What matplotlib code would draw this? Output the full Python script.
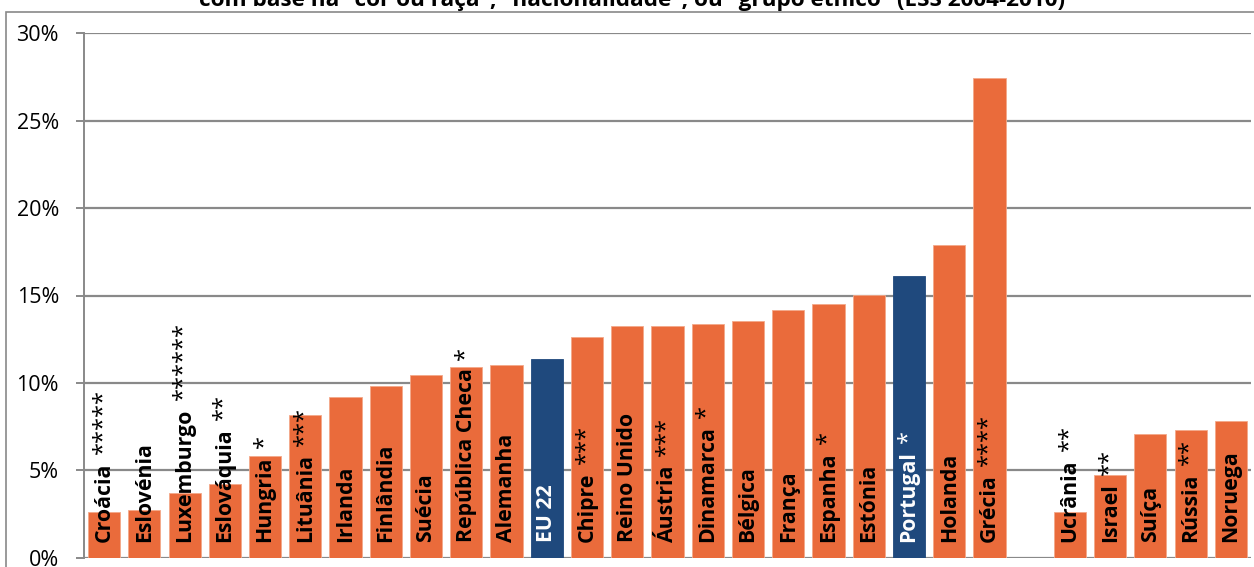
import numpy as np
import matplotlib.pyplot as plt
from matplotlib.patches import Rectangle

# -----------------------------
# Dados
# -----------------------------
paises = ['Croácia', 'Eslovénia', 'Luxemburgo', 'Eslováquia', 'Hungria', 'Lituânia',
          'Irlanda', 'Finlândia', 'Suécia', 'República Checa', 'Alemanha', 'EU 22',
          'Chipre', 'Reino Unido', 'Áustria', 'Dinamarca', 'Bélgica', 'França',
          'Espanha', 'Estónia', 'Portugal', 'Holanda', 'Grécia', '',
          'Ucrânia', 'Israel', 'Suíça', 'Rússia', 'Noruega']
asteriscos = ['*****', '', '******', '**', '*', '***',
              '', '', '', '*', '', '',
              '***', '', '***', '*', '', '',
              '*', '', '*', '', '****', '',
              '**', '**', '', '**', '']
valores = [2.61, 2.75, 3.72, 4.24, 5.84, 8.18,
           9.17, 9.81, 10.48, 10.89, 11.02, 11.35,
           12.61, 13.24, 13.26, 13.35, 13.56, 14.19,
           14.51, 15.03, 16.11, 17.87, 27.45, np.nan,
           2.63, 4.74, 7.05, 7.33, 7.84]
destaque = ['EU 22', 'Portugal']

titulo = 'com base na "cor ou raça", "nacionalidade", ou "grupo étnico" (ESS 2004-2010)'

laranja = '#EA6B3B'
azul = '#1F497D'
cinza = '#898989'

plt.rcParams['font.family'] = ['Open Sans', 'DejaVu Sans']

fig = plt.figure(figsize=(12.54, 5.67), dpi=100)
ax = fig.add_axes([84 / 1254, 9.3 / 567, 1167 / 1254, 524.4 / 567])

x = np.arange(len(paises))
cores = [azul if p in destaque else laranja for p in paises]
bordas = [azul if p in destaque else '#F3A98A' for p in paises]
ax.bar(x, valores, width=0.8, color=cores, edgecolor=bordas, linewidth=0.6, zorder=2)

ax.set_xlim(-0.5, len(paises) - 0.5)
ax.set_ylim(0, 30)
ax.set_yticks(np.arange(0, 31, 5))
ax.set_yticklabels([f'{v}%' for v in range(0, 31, 5)], fontsize=15.5)
ax.set_xticks([])
ax.yaxis.grid(True, color=cinza, linewidth=1.6, zorder=0)
ax.set_axisbelow(True)
for s in ['top', 'right', 'bottom']:
    ax.spines[s].set_visible(False)
ax.spines['left'].set_color(cinza)
ax.spines['left'].set_linewidth(1.4)
ax.tick_params(axis='y', length=6, width=1.4, color=cinza, pad=12)

# rótulos dentro das barras
for i, (p, a) in enumerate(zip(paises, asteriscos)):
    if not p:
        continue
    cor_txt = 'white' if p in destaque else 'black'
    t = ax.annotate(p, xy=(i, 0), xytext=(0, 16), textcoords='offset pixels',
                    rotation=90, ha='center', va='bottom', fontsize=15.3,
                    fontweight='bold', color=cor_txt, zorder=3)
    if a:
        ax.annotate(a, xy=(0.5, 1), xycoords=t, xytext=(-1, 8), textcoords='offset pixels',
                    rotation=90, ha='center', va='bottom', fontsize=17,
                    color=cor_txt, zorder=3)

# moldura e título (cortados no topo)
fig.patches.append(Rectangle((6 / 1254, -0.1), 1.2, 0.1 + 555 / 567, transform=fig.transFigure,
                             fill=False, edgecolor=cinza, linewidth=1.2))
fig.text(632 / 1254, 561 / 567, titulo, ha='center', va='baseline',
         fontsize=16.2, fontweight='bold')

fig.savefig('out.png', dpi=100)
